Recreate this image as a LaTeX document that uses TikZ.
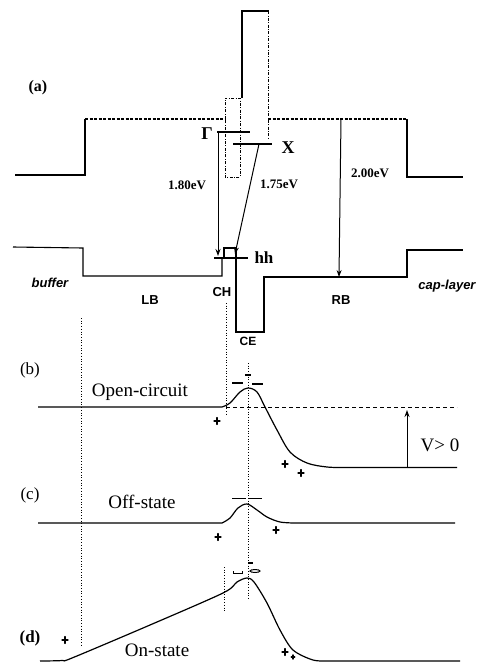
\documentclass[tikz,border=0pt]{standalone}
\usepackage{fontspec}
\setmainfont{Liberation Serif}
\newfontfamily\sansb{Liberation Sans}
\usetikzlibrary{arrows.meta}
\newcommand\fsz[1]{\fontsize{#1}{#1}\selectfont}
\begin{document}
\begin{tikzpicture}[x=1pt,y=-1pt,
  band/.style={line width=1.1pt},
  dashtop/.style={line width=1.3pt,dash pattern=on 3pt off 1.5pt},
  thindash/.style={line width=0.6pt,dash pattern=on 3pt off 1.5pt on 0.8pt off 1.5pt},
  guide/.style={line width=0.7pt,dotted},
  trans/.style={line width=1pt,-{Stealth[length=7pt,width=5pt]}},
  lvl/.style={line width=1.4pt},
  curve/.style={line width=1.2pt},
  lab/.style={inner sep=0pt},
  hs/.pic={\draw[line width=1.3pt,line cap=round] (-3,0)--(3,0) (0,-3.4)--(0,3.4);}
]
\useasboundingbox (0,0) rectangle (484,662);
\fill[white] (0,0) rectangle (484,662);

% ---------- (a) conduction band ----------
\draw[band] (15,175) -- (85,175) -- (85,119);
\draw[dashtop] (85,119) -- (225,119);
\draw[thindash] (225,119) -- (225,98) -- (240,98) -- (240,177) -- (225,177) -- (225,119);
\draw[band] (242,98) -- (242,11) -- (269,11);
\draw[thindash] (268,11) -- (268,140);
\draw[dashtop] (268,119) -- (407,119);
\draw[band] (407,119) -- (407,177) -- (463,177);
\draw[band] (217,132) -- (250,132);
\draw[band] (233,144) -- (272,144);

% ---------- (a) valence band ----------
\draw[band] (13,247) -- (83,248) -- (83,276) -- (222,276) -- (222,258);
\draw[band] (214,258) -- (248,258);
\draw[band] (224,258) -- (224,248) -- (236,248) -- (236,332) -- (264,332) -- (264,277) -- (407,277) -- (407,250) -- (463,250);

% transitions
\coordinate (g1) at (218,132); \coordinate (g2) at (218,256);
\coordinate (x1) at (259,144); \coordinate (x2) at (235,254);
\coordinate (r1) at (341,119); \coordinate (r2) at (339,277);
\draw[trans] (g1) -- (g2);
\draw[trans] (x1) -- (x2);
\draw[trans] (r1) -- (r2);

% labels (a)
\node[lab,font=\fsz{16}\bfseries] (la) at (38,88) {(a)};
\node[lab,font=\fsz{18}\bfseries] (gam) at (207,134) {Γ};
\node[lab,font=\fsz{18}\bfseries] (xl) at (288,148) {X};
\node[lab,font=\fsz{17}\bfseries] (hh) at (264,258) {hh};
\node[lab,font=\fsz{13}\bfseries] (e180) at (187,185) {1.80eV};
\node[lab,font=\fsz{13}\bfseries] (e175) at (279,184) {1.75eV};
\node[lab,font=\fsz{13}\bfseries] (e200) at (370,173) {2.00eV};
\node[lab,font=\sansb\bfseries\itshape\fsz{13}] (buf) at (50,283) {buffer};
\node[lab,font=\sansb\bfseries\fsz{13}] (lb) at (150,300) {LB};
\node[lab,font=\sansb\bfseries\fsz{13}] (ch) at (222,292) {CH};
\node[lab,font=\sansb\bfseries\fsz{13}] (rb) at (341,300) {RB};
\node[lab,font=\sansb\bfseries\itshape\fsz{13}] (cap) at (447,286) {cap-layer};
\node[lab,font=\sansb\bfseries\fsz{12}] (ce) at (248,341) {CE};

% guides
\draw[guide] (81,318) -- (81,645);
\draw[guide] (226,303) -- (226,415);
\draw[guide] (224,567) -- (224,612);
\draw[guide] (248,363) -- (248,600);

% ---------- (b) ----------
\node[lab,font=\fsz{17}] (lbb) at (30,370) {(b)};
\node[lab,font=\fsz{19}] (oc) at (140,392) {Open-circuit};
\draw[curve] (38,407) -- (222,407) plot[smooth,tension=0.55] coordinates {(222,407) (230,403) (240,392) (248,388) (257,392) (265,407) (277,430) (290,452) (307,463) (327,467) (345,467.5)} -- (457,467.5);
\draw[line width=0.9pt,dash pattern=on 4pt off 3pt] (226,407) -- (457,407);
\coordinate (v1) at (407,467.5); \coordinate (v2) at (407,410);
\draw[trans] (v1) -- (v2);
\node[lab,font=\fsz{19}] (vg) at (440,445) {V> 0};
\pic at (217,421) {hs}; \pic at (285,464) {hs}; \pic at (301,473) {hs};
\draw[lvl] (232,383) -- (243,383);
\draw[lvl] (252,384) -- (263,384);
\draw[lvl] (245,375) -- (251,375);

% ---------- (c) ----------
\node[lab,font=\fsz{17}] (lbc) at (30,495) {(c)};
\node[lab,font=\fsz{19}] (off) at (142,502) {Off-state};
\draw[curve] (38,523) -- (222,523) plot[smooth,tension=0.55] coordinates {(222,523) (230,518) (238,508) (247,504) (257,510) (267,517) (280,522) (295,523)} -- (455,523);
\pic at (218,537) {hs}; \pic at (276,530) {hs};
\draw[line width=1pt] (232,498) -- (246,498);
\draw[line width=1pt] (249,498) -- (262,498);

% ---------- (d) ----------
\node[lab,font=\fsz{17}\bfseries] (lbd) at (30,638) {(d)};
\node[lab,font=\fsz{19}] (on) at (157,650) {On-state};
\draw[curve] plot[smooth,tension=0.5] coordinates {(40,661) (62,660.5) (72,658) (150,625) (223,593) (237,582) (247,578) (254,582) (267,603) (280,630) (293,650) (313,660) (330,661)} -- (460,661);
\pic at (65,640) {hs}; \pic at (285,652) {hs};
\pic[scale=0.6] at (293,657) {hs};
\draw[line width=1pt] (233,571) -- (233,573) -- (242,573) -- (242,571);
\draw[line width=1pt] (255,571) ellipse (5 and 1.5);
\draw[lvl] (248,563) -- (253,563);
\end{tikzpicture}
\end{document}
